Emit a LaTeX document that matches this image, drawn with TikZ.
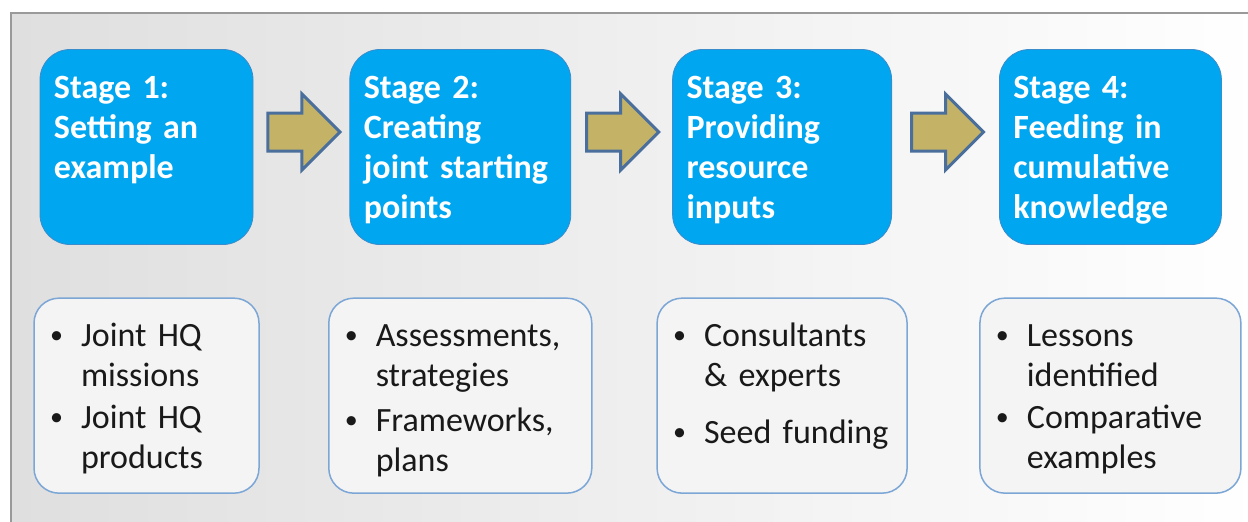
\documentclass[tikz,border=0pt]{standalone}
\usepackage{fontspec}
\setmainfont{Carlito}
\usetikzlibrary{positioning,calc,shapes.arrows}

\definecolor{stageblue}{HTML}{00A6F0}
\definecolor{stageedge}{HTML}{3A8CCB}
\definecolor{listfill}{HTML}{F4F4F4}
\definecolor{listedge}{HTML}{7BA6D6}
\definecolor{arrowfill}{HTML}{C4B267}
\definecolor{arrowedge}{HTML}{4B6F9C}
\definecolor{framegray}{HTML}{9A9A9A}
\definecolor{bgleft}{HTML}{DFDFDF}
\definecolor{bgmid}{HTML}{E8E8E8}

\newcommand{\bitem}{\makebox[15.5pt][l]{\raisebox{1.3pt}{\fontsize{13}{13}\selectfont\textbullet}}}
\newcommand{\bskip}{\hspace*{15.5pt}}

\tikzset{
  stagebox/.style={draw=stageedge, thin, fill=stageblue, rectangle, rounded corners=15pt,
    inner xsep=7pt, inner ysep=0pt, text height=24.25pt, text depth=73.25pt,
    align=left, text=white, font=\bfseries\fontsize{17}{20}\selectfont},
  listbox/.style={draw=listedge, line width=0.75pt, fill=listfill, rectangle, rounded corners=12.5pt,
    inner xsep=8pt, inner ysep=0pt, text height=24pt, text depth=73.5pt,
    align=left, text=black!90, font=\fontsize{17}{20}\selectfont},
  stagearrow/.style={draw=arrowedge, line width=1.5pt, fill=arrowfill, single arrow,
    single arrow head extend=9.5pt, single arrow tip angle=90, single arrow head indent=0pt,
    minimum height=36pt, inner xsep=0pt, inner ysep=8.75pt, anchor=tail}
}

\begin{document}
\begin{tikzpicture}[x=0.5pt, y=-0.5pt]
\useasboundingbox (0,0) rectangle (1248,521);
% background and frame
\fill[white] (0,0) rectangle (1248,521);
\shade[left color=bgleft, middle color=bgmid, right color=white] (11,13) rectangle (1262,535);
\draw[framegray, line width=0.75pt] (11,535) -- (11,13) -- (1262,13);

% stages
\node[stagebox, text width=92.5pt] (s1) at (146.5,147) {Stage 1:\\Setting an\\example};
\node[stagebox, text width=96.5pt, right=48pt of s1] (s2) {Stage 2:\\Creating\\joint starting\\points};
\node[stagebox, text width=95.5pt, right=50.5pt of s2] (s3) {Stage 3:\\Providing\\resource\\inputs};
\node[stagebox, text width=97pt, right=53.5pt of s3] (s4) {Stage 4:\\Feeding in\\cumulative\\knowledge};

% arrows between stages
\node[stagearrow] (a1) at ($(s1.east)+(13,-15)$) {};
\node[stagearrow] (a2) at ($(s2.east)+(14,-15)$) {};
\node[stagearrow] (a3) at ($(s3.east)+(18,-15)$) {};

% lists below the stages
\node[listbox, text width=96.5pt, below=26.25pt of s1] (l1)
  {\bitem Joint HQ\\\bskip missions\\[1pt]\bitem Joint HQ\\\bskip products};
\node[listbox, text width=115.5pt, below=26.25pt of s2] (l2)
  {\bitem Assessments,\\\bskip strategies\\[2.5pt]\bitem Frameworks,\\\bskip plans};
\node[listbox, text width=109pt, below=26.25pt of s3] (l3)
  {\bitem Consultants\\\bskip \& experts\\[8.5pt]\bitem Seed funding};
\node[listbox, text width=114.5pt, below=26.25pt of s4] (l4)
  {\bitem Lessons\\\bskip identified\\[1pt]\bitem Comparative\\\bskip examples};
\end{tikzpicture}
\end{document}
